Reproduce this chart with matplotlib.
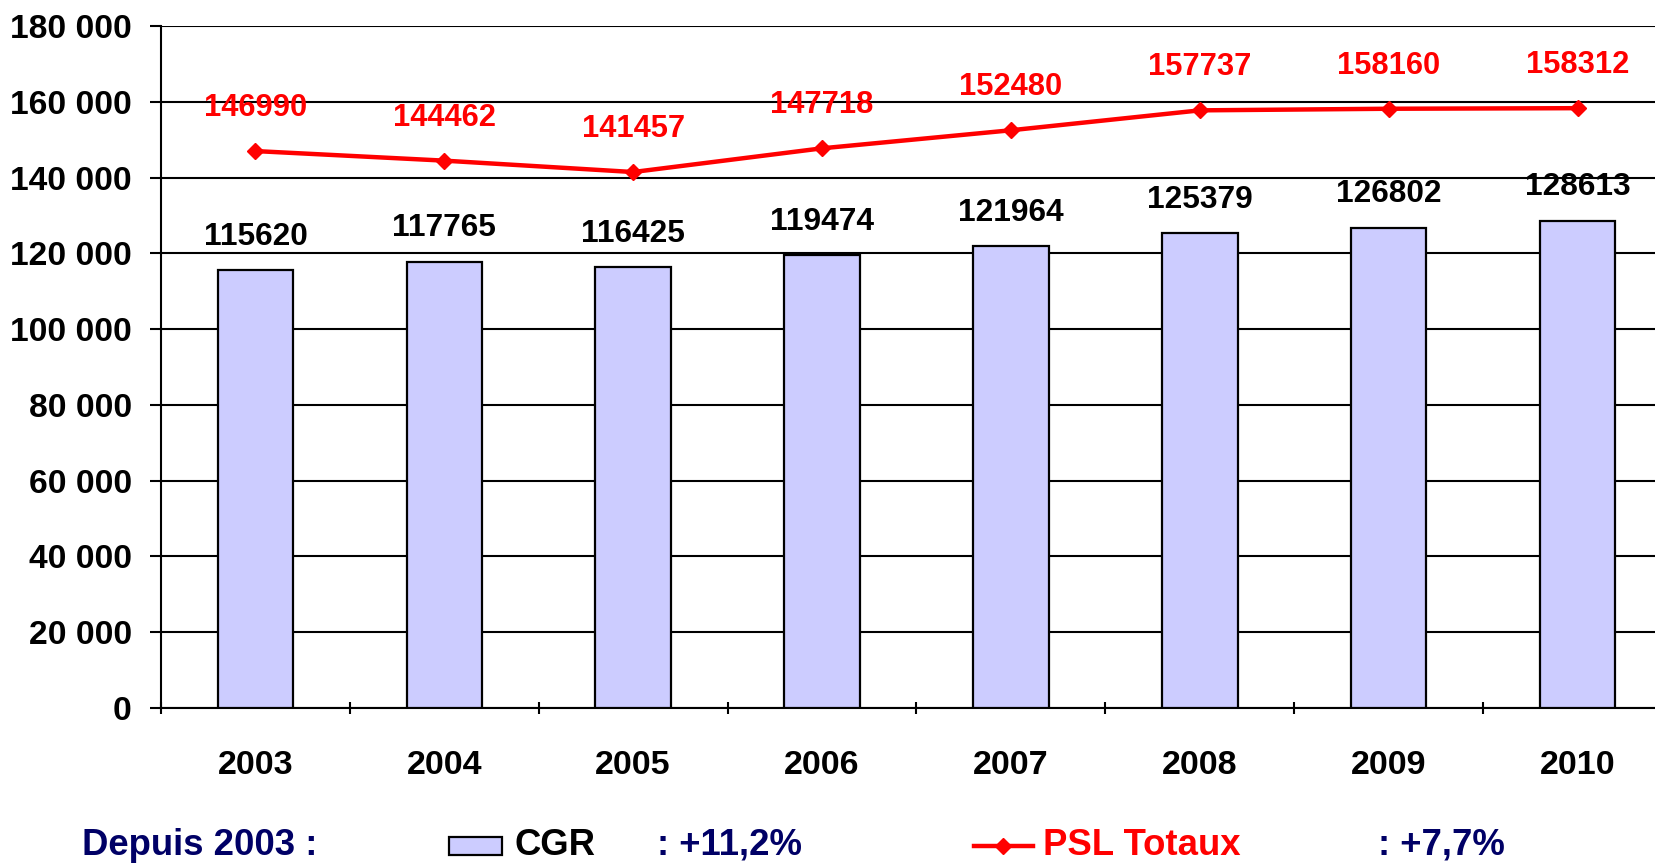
import matplotlib.pyplot as plt
from matplotlib.patches import Rectangle
from matplotlib.lines import Line2D
from matplotlib.ticker import FuncFormatter

plt.rcParams["font.family"] = ["Liberation Sans", "DejaVu Sans"]
plt.rcParams["font.weight"] = "bold"

years = ["2003", "2004", "2005", "2006", "2007", "2008", "2009", "2010"]
cgr = [115620, 117765, 116425, 119474, 121964, 125379, 126802, 128613]
psl = [146990, 144462, 141457, 147718, 152480, 157737, 158160, 158312]
y_ticks = [0, 20000, 40000, 60000, 80000, 100000, 120000, 140000, 160000, 180000]

W, H = 1656, 863
fig = plt.figure(figsize=(W / 100, H / 100), dpi=100)
# axes spans x 161..1672 px (clipped by figure edge), y 26..708 px
ax = fig.add_axes([161 / W, 1 - 708 / H, (1672 - 161) / W, (708 - 26) / H])

x = list(range(len(years)))
ax.bar(x, cgr, width=0.40, color="#CCCCFF", edgecolor="black", linewidth=1.6, zorder=3)
ax.plot(x, psl, color="red", linewidth=3.2, marker="D", markersize=8, zorder=4)

for xi, v in zip(x, cgr):
    ax.annotate(str(v), (xi, v), xytext=(0, 24), textcoords="offset points",
                ha="center", va="center", fontsize=22.8, color="black", fontweight="bold")
for xi, v in zip(x, psl):
    ax.annotate(str(v), (xi, v), xytext=(0, 31), textcoords="offset points",
                ha="center", va="center", fontsize=22.2, color="red", fontweight="bold",
                zorder=5)

ax.set_xlim(-0.5, len(years) - 0.5)
ax.set_ylim(0, 180000)
ax.set_yticks(y_ticks)
ax.yaxis.set_major_formatter(FuncFormatter(lambda v, p: f"{int(v):,}".replace(",", " ")))
ax.set_xticks(x)
ax.set_xticklabels(years)
ax.set_xticks([i - 0.5 for i in range(len(years) + 1)], minor=True)

ax.grid(axis="y", color="black", linewidth=1.5, zorder=1)
ax.set_axisbelow(True)
for s in ["top", "right"]:
    ax.spines[s].set_visible(False)
ax.spines["left"].set_linewidth(1.5)
ax.spines["bottom"].set_linewidth(1.5)

ax.tick_params(axis="y", length=8, width=1.5, pad=13, labelsize=24.2)
ax.tick_params(axis="x", which="major", length=0, pad=30, labelsize=24.5)
ax.tick_params(axis="x", which="minor", length=8, width=1.5, direction="inout")
for lbl in ax.get_xticklabels() + ax.get_yticklabels():
    lbl.set_fontweight("bold")

# bottom legend line
navy = "#000066"
ty = 1 - 845 / H
fig.text(82 / W, ty, "Depuis 2003 :", color=navy, fontsize=26.3, fontweight="bold", va="center")
fig.patches.append(Rectangle((449 / W, 1 - 855 / H), 53 / W, 18 / H, transform=fig.transFigure,
                             facecolor="#CCCCFF", edgecolor="black", linewidth=1.6))
fig.text(515 / W, ty, "CGR", color="black", fontsize=26.3, fontweight="bold", va="center")
fig.text(657 / W, ty, ": +11,2%", color=navy, fontsize=26.3, fontweight="bold", va="center")
fig.lines.append(Line2D([974 / W, 1033 / W], [1 - 846 / H, 1 - 846 / H], transform=fig.transFigure,
                        color="red", linewidth=3.2))
fig.lines.append(Line2D([1003.5 / W], [1 - 846 / H], transform=fig.transFigure,
                        color="red", marker="D", markersize=8, linestyle="none"))
fig.text(1043 / W, ty, "PSL Totaux", color="red", fontsize=26.3, fontweight="bold", va="center")
fig.text(1378 / W, ty, ": +7,7%", color=navy, fontsize=26.3, fontweight="bold", va="center")

fig.savefig("out.png", dpi=100)
